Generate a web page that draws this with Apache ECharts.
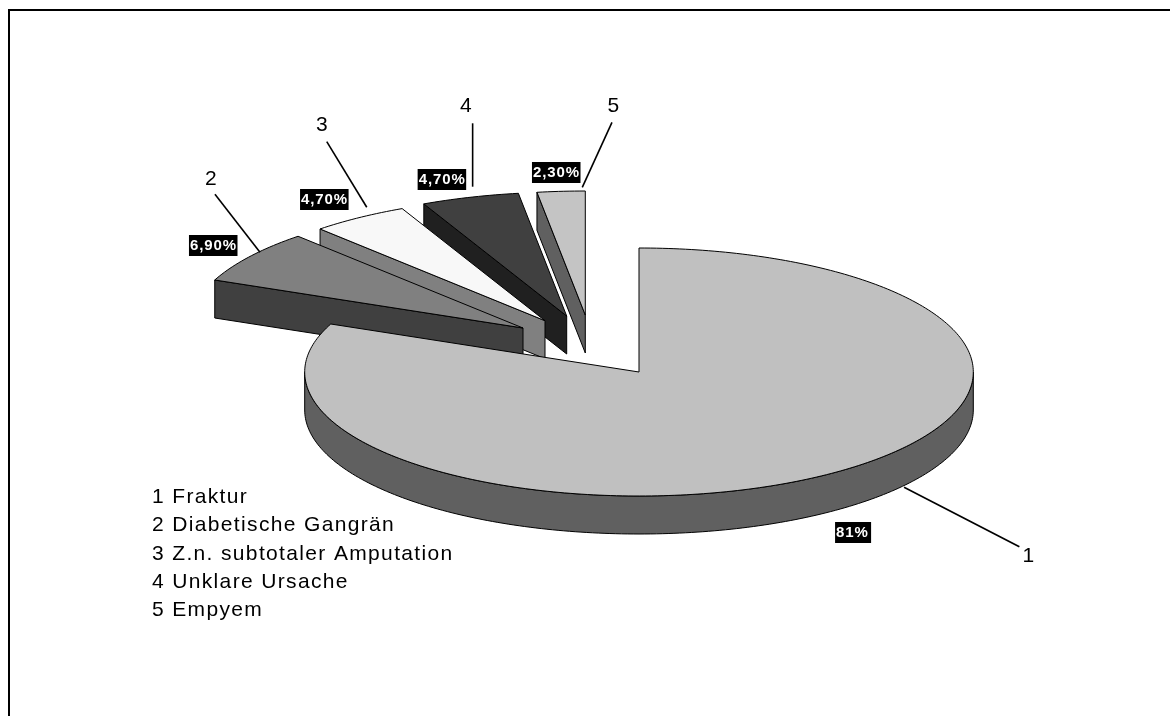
<!DOCTYPE html>
<html>
<head>
<meta charset="utf-8">
<style>html,body{margin:0;padding:0;background:#fff}#chart{width:1170px;height:716px}</style>
<script src="https://cdn.jsdelivr.net/npm/echarts@6/dist/echarts.min.js"></script>
</head>
<body>
<div id="chart"></div>
<script>
// Amputation causes, in pie order (clockwise from twelve o'clock)
var causes = ['Fraktur', 'Diabetische Gangrän', 'Z.n. subtotaler Amputation', 'Unklare Ursache', 'Empyem'];
var shares = [81, 6.9, 4.7, 4.7, 2.3];
var shareLabels = ['81%', '6,90%', '4,70%', '4,70%', '2,30%'];

// Pie projection
var pie = { cx: 639, cy: 372, rx: 334.3, ry: 124, depth: 38 };

// Per-slice appearance and layout; offsets are relative to the outer arc midpoint
var topColors = ['#c0c0c0', '#808080', '#f8f8f8', '#404040', '#c4c4c4'];
var wallColors = ['#606060', '#404040', '#808080', '#202020', '#606060'];
var explode = [[0, 0], [-116, -44], [-94, -51.3], [-72.3, -56], [-53.7, -57]];
var leaderStart = [[80, 12], [10, -4.2], [7.7, -10.4], [2.6, -10.6], [21.2, -4]];
var leaderEnd = [[195.3, 71.4], [-35, -62.2], [-32.3, -76], [2.6, -74], [50.9, -69]];
var numberPos = [[205, 81], [-38.5, -77.5], [-36.5, -92.7], [-3.6, -91.3], [52.9, -85.3]];
var boxPos = [[11, 46.7], [-61, -21.5], [-59, -28.7], [-52.4, -28.3], [-29.1, -29.3]];
var legendPos = { x: 152, y: 497.5, step: 28.2 };

var total = shares.reduce(function (a, b) { return a + b; }, 0);
var FONT = '"Liberation Sans", Arial, sans-serif';

// Captions are tracked: wider for the key, tighter for the bold value tags
(function () {
  var proto = CanvasRenderingContext2D.prototype, fill = proto.fillText;
  proto.fillText = function (text, x, y, maxWidth) {
    this.letterSpacing = this.font.indexOf('bold') >= 0 ? '0.9px' : '1.35px';
    return maxWidth === undefined ? fill.call(this, text, x, y) : fill.call(this, text, x, y, maxWidth);
  };
})();

function point(apex, deg, drop) {
  var r = deg * Math.PI / 180;
  return [apex[0] + pie.rx * Math.sin(r), apex[1] - pie.ry * Math.cos(r) + (drop || 0)];
}
function arc(apex, from, to, drop) {
  var pts = [], n = Math.max(2, Math.ceil(Math.abs(to - from)));
  for (var i = 0; i <= n; i++) pts.push(point(apex, from + (to - from) * i / n, drop));
  return pts;
}
function poly(points, fill, z2) {
  return { type: 'polygon', z2: z2, shape: { points: points },
    style: { fill: fill, stroke: '#000', lineWidth: 1, lineJoin: 'round' } };
}

function renderSlice(params, api) {
  var i = params.dataIndex;
  var before = 0;
  for (var k = 0; k < i; k++) before += shares[k];
  var from = before / total * 360;
  var to = from + api.value(1) / total * 360;
  var apex = [pie.cx + explode[i][0], pie.cy + explode[i][1]];
  var apexLow = [apex[0], apex[1] + pie.depth];
  // Later slices sit behind earlier ones; the large slice is in front of all
  var base = i === 0 ? 100 : (10 - i) * 10;
  var kids = [];

  if (i === 0) {
    // Visible outer wall of the front half
    var wallTop = arc(apex, 90, 270);
    var wallLow = arc(apex, 270, 90, pie.depth);
    kids.push(poly(wallTop.concat(wallLow), wallColors[i], base));
  } else {
    // Cut face on the leading edge of an exploded slice
    kids.push(poly([apex, point(apex, from), point(apex, from, pie.depth), apexLow], wallColors[i], base));
  }
  kids.push(poly([apex].concat(arc(apex, from, to)), topColors[i], base + 1));

  var mid = point(apex, (from + to) / 2);
  var at = function (o) { return [mid[0] + o[0], mid[1] + o[1]]; };
  var a = at(leaderStart[i]), b = at(leaderEnd[i]), n = at(numberPos[i]), c = at(boxPos[i]);
  kids.push({ type: 'line', z2: 200,
    shape: { x1: a[0], y1: a[1], x2: b[0], y2: b[1] },
    style: { stroke: '#000', lineWidth: 1.6 } });
  kids.push({ type: 'text', z2: 201,
    style: { x: n[0], y: n[1], text: String(i + 1), fill: '#000', font: '21px ' + FONT,
      textAlign: 'center', textVerticalAlign: 'middle' } });
  kids.push({ type: 'text', z2: 201,
    style: { x: c[0], y: c[1], text: shareLabels[i], fill: '#fff', font: 'bold 15px ' + FONT,
      textAlign: 'left', textVerticalAlign: 'top', backgroundColor: '#000',
      lineHeight: 17, padding: [2, 5, 2, 1] } });
  kids.push({ type: 'text', z2: 201,
    style: { x: legendPos.x, y: legendPos.y + i * legendPos.step, text: (i + 1) + ' ' + causes[i],
      fill: '#000', font: '21px ' + FONT, textAlign: 'left', textVerticalAlign: 'middle' } });
  return { type: 'group', children: kids };
}

var chart = echarts.init(document.getElementById('chart'), null, { renderer: 'canvas', width: 1170, height: 716 });

chart.setOption({
  backgroundColor: '#fff',
  animation: false,
  graphic: [
    { type: 'line', silent: true, shape: { x1: 8, y1: 10, x2: 1170, y2: 10 }, style: { stroke: '#000', lineWidth: 2 } },
    { type: 'line', silent: true, shape: { x1: 9, y1: 9, x2: 9, y2: 716 }, style: { stroke: '#000', lineWidth: 2 } }
  ],
  series: [{
    type: 'custom',
    coordinateSystem: 'none',
    silent: true,
    renderItem: renderSlice,
    data: shares.map(function (v, i) { return { name: causes[i], value: [i, v] }; })
  }]
});
</script>
</body>
</html>
